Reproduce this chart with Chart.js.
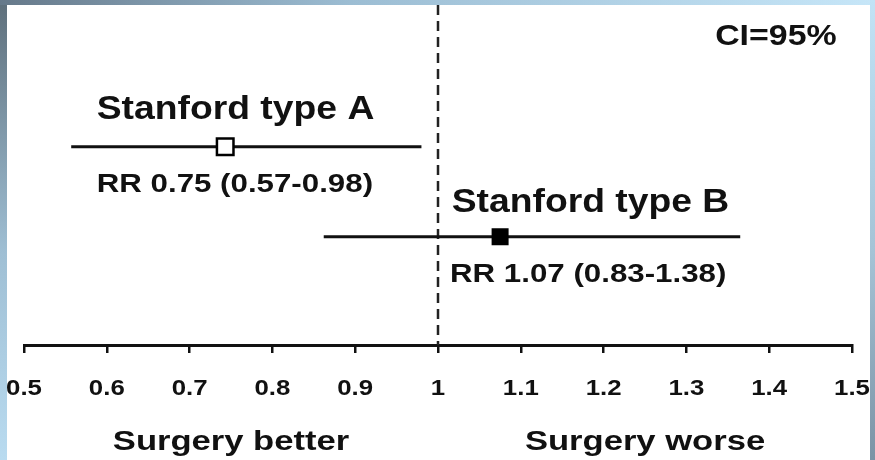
<!DOCTYPE html>
<html>
<head>
<meta charset="utf-8">
<script src="https://cdn.jsdelivr.net/npm/chart.js@4/dist/chart.umd.min.js"></script>
<style>
html,body{margin:0;padding:0;width:875px;height:460px;overflow:hidden;background:#fff}
.strip{position:absolute}
#left{left:0;top:0;width:7px;height:460px;background:linear-gradient(#5e6f7b,#9fbfd4 55%,#b9dbf0)}
#top{left:0;top:0;width:875px;height:5px;background:linear-gradient(90deg,#66798a,#9cbdd3 40%,#c6e6f8)}
#right{left:870px;top:0;width:5px;height:460px;background:linear-gradient(#c2e3f6,#a5c3d6 55%,#7b93a5)}
#wrap{position:absolute;left:0;top:0;width:875px;height:460px}
</style>
</head>
<body>
<div class="strip" id="left"></div>
<div class="strip" id="top"></div>
<div class="strip" id="right"></div>
<div id="wrap"><canvas id="c" width="875" height="460"></canvas></div>
<script>
// ---------- data ----------
const categories = ['Stanford type A', 'Stanford type B'];
const rowIndex = [2, 1];
const rrPoint = [0.743, 1.075];
const ciLower = [0.557, 0.862];
const ciUpper = [0.98, 1.365];
const rrLabels = ['RR 0.75 (0.57-0.98)', 'RR 1.07 (0.83-1.38)'];
const xTicks = [0.5, 0.6, 0.7, 0.8, 0.9, 1.0, 1.1, 1.2, 1.3, 1.4, 1.5];
const tickLabels = ['0.5', '0.6', '0.7', '0.8', '0.9', '1', '1.1', '1.2', '1.3', '1.4', '1.5'];
const refValue = 1;
const sideLabels = ['Surgery better', 'Surgery worse'];
const sideCenters = [0.75, 1.25];
const ciText = 'CI=95%';

// ---------- layout / style ----------
const Y_MIN = -0.203, Y_MAX = 3.575;
const INK = '#111';
const FONT = '"Liberation Sans", Arial, Helvetica, sans-serif';
const markerStyle = {
  fill: ['#ffffff', '#000000'],
  radius: [11.7, 10.6],
  border: [2.5, 2]
};
const textLayout = {
  titleX: [0.5878, 1.0165],
  titleDy: [-28, -25],
  titleSize: 33, titleSx: 1.13,
  rrX: [0.5878, 1.0145],
  rrDy: 45,
  rrSize: 26.5, rrSx: 1.18,
  tickDy: 50, tickSize: 21.5, tickSx: 1.2,
  sideDy: 105, sideSize: 28, sideSx: 1.235,
  ciRight: 1.4815, ciDy: 40, ciSize: 30, ciSx: 1.13
};

function drawText(ctx, text, x, y, size, sx, align) {
  ctx.save();
  ctx.font = 'bold ' + size + 'px ' + FONT;
  ctx.fillStyle = INK;
  ctx.textBaseline = 'alphabetic';
  ctx.textAlign = 'left';
  const w = ctx.measureText(text).width * sx;
  const left = align === 'center' ? x - w / 2 : (align === 'right' ? x - w : x);
  ctx.translate(left, y);
  ctx.scale(sx, 1);
  ctx.fillText(text, 0, 0);
  ctx.restore();
}

const textPlugin = {
  id: 'texts',
  afterDraw(chart) {
    const ctx = chart.ctx;
    const xs = chart.scales.x, ys = chart.scales.y;
    const area = chart.chartArea;
    const L = textLayout;
    categories.forEach((name, i) => {
      const rowY = ys.getPixelForValue(rowIndex[i]);
      drawText(ctx, name, xs.getPixelForValue(L.titleX[i]), rowY + L.titleDy[i], L.titleSize, L.titleSx, 'left');
      drawText(ctx, rrLabels[i], xs.getPixelForValue(L.rrX[i]), rowY + L.rrDy, L.rrSize, L.rrSx, 'left');
    });
    xTicks.forEach((v, i) => {
      drawText(ctx, tickLabels[i], xs.getPixelForValue(v), area.bottom + L.tickDy, L.tickSize, L.tickSx, 'center');
    });
    sideLabels.forEach((t, i) => {
      drawText(ctx, t, xs.getPixelForValue(sideCenters[i]), area.bottom + L.sideDy, L.sideSize, L.sideSx, 'center');
    });
    drawText(ctx, ciText, xs.getPixelForValue(L.ciRight), area.top + L.ciDy, L.ciSize, L.ciSx, 'right');
  }
};

const datasets = [];
// markers (index 0 drawn on top)
datasets.push({
  type: 'scatter',
  data: rrPoint.map((v, i) => ({ x: v, y: rowIndex[i] })),
  pointStyle: 'rect',
  pointRadius: markerStyle.radius,
  pointHoverRadius: markerStyle.radius,
  backgroundColor: markerStyle.fill,
  borderColor: '#000',
  borderWidth: markerStyle.border,
  clip: false
});
// confidence interval lines
categories.forEach((c, i) => {
  datasets.push({
    type: 'line',
    data: [{ x: ciLower[i], y: rowIndex[i] }, { x: ciUpper[i], y: rowIndex[i] }],
    borderColor: INK,
    borderWidth: 3,
    pointRadius: 0,
    fill: false,
    clip: false
  });
});
// reference dashed line
datasets.push({
  type: 'line',
  data: [{ x: refValue, y: Y_MAX }, { x: refValue, y: Y_MIN }],
  borderColor: '#222',
  borderWidth: 2.5,
  borderDash: [10, 6],
  pointRadius: 0,
  fill: false,
  clip: false
});

new Chart(document.getElementById('c'), {
  type: 'scatter',
  data: { datasets },
  options: {
    responsive: false,
    animation: false,
    layout: { autoPadding: false, padding: { left: 24, right: 23, top: 5, bottom: 0 } },
    plugins: { legend: { display: false }, tooltip: { enabled: false } },
    scales: {
      x: {
        type: 'linear',
        min: 0.5, max: 1.5,
        afterBuildTicks: (s) => { s.ticks = xTicks.map(v => ({ value: v })); },
        ticks: { display: false },
        grid: { drawOnChartArea: false, drawTicks: true, tickLength: 8, lineWidth: 2.5, color: INK },
        border: { display: true, width: 3, color: INK },
        afterFit: (s) => { s.height = 115; }
      },
      y: { type: 'linear', display: false, min: Y_MIN, max: Y_MAX }
    }
  },
  plugins: [textPlugin]
});
</script>
</body>
</html>
